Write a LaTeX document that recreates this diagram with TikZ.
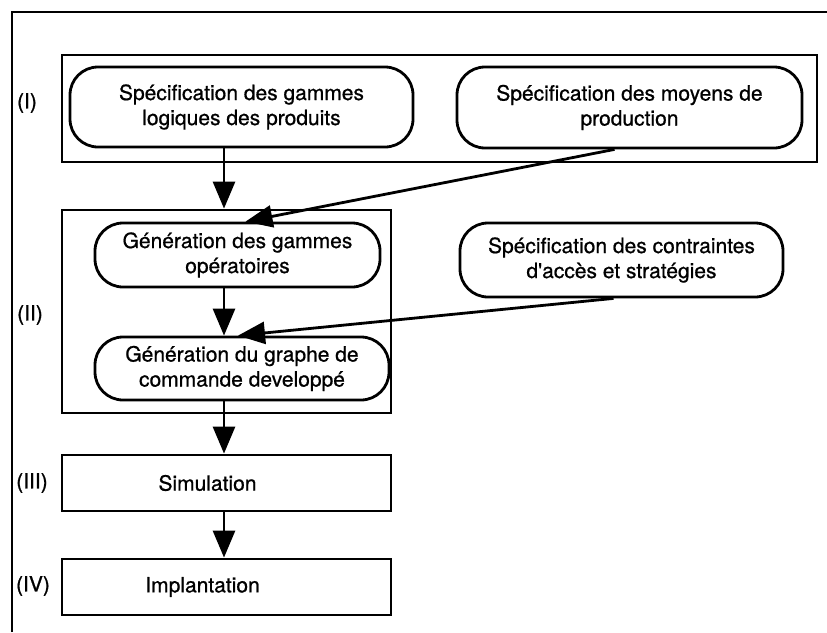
\documentclass[tikz,border=0pt]{standalone}
\usepackage{fontspec}
\setmainfont{TeX Gyre Heros}[UprightFeatures={FakeBold=0.8}]
\usetikzlibrary{arrows.meta}

\begin{document}
\begin{tikzpicture}[x=1pt, y=-1pt,
            % étapes arrondies
            proc/.style={rectangle, rounded corners=28pt, draw, line width=2.8pt, inner sep=0pt, align=center, font=\fontsize{21}{25}\selectfont},
            % cadres des phases
            phase/.style={rectangle, draw, line width=2.8pt, inner sep=0pt, font=\fontsize{21}{25}\selectfont},
            tag/.style={font=\fontsize{21}{25}\selectfont, inner sep=0pt},
            flow/.style={-{Triangle[length=27pt, width=22pt]}, line width=2.8pt}
        ]
            \useasboundingbox (0,0) rectangle (827,632);

            % --- cadre extérieur ---
            \draw[line width=2.4pt] (12,632) -- (12,12) -- (827,12);

            % --- phases ---
            \node[phase, minimum width=755pt, minimum height=107pt] (ph1) at (439.5,108.5) {};
            \node[phase, minimum width=329pt, minimum height=203pt] (ph2) at (226.5,311.5) {};
            \node[phase, minimum width=329pt, minimum height=56pt] (sim) at (226.5,483) {\hspace*{-38pt}Simulation};
            \node[phase, minimum width=329pt, minimum height=56pt] (impl) at (226.5,587) {\hspace*{-48pt}Implantation};

            \node[tag] (t1) at (27,103) {(I)};
            \node[tag] (t2) at (30,315) {(II)};
            \node[tag] (t3) at (32,483) {(III)};
            \node[tag] (t4) at (33,586) {(IV)};

            % --- étapes ---
            \node[proc, minimum width=343pt, minimum height=80pt] (gl) at (241.5,107) {Spécification des gammes\\logiques des produits};
            \node[proc, minimum width=345pt, minimum height=81pt] (mp) at (629.5,107.5) {Spécification des moyens de\\production};
            \node[proc, minimum width=285pt, minimum height=64pt] (go) at (237.5,255) {Génération des gammes\\opératoires};
            \node[proc, minimum width=323pt, minimum height=74pt] (ca) at (621.5,260) {Spécification des contraintes\\d\textquotesingle accès et stratégies};
            \node[proc, minimum width=294pt, minimum height=63pt] (gc) at (242,368.5) {Génération du graphe de\\commande developpé};

            % --- flèches ---
            \coordinate (spine) at (224,0);
            \draw[flow] (gl.south -| spine) -- (ph2.north -| spine);
            \draw[flow] ([xshift=-15pt]mp.south) -- ([xshift=8pt]go.north);
            \draw[flow] (go.south -| spine) -- (gc.north -| spine);
            \draw[flow] ([xshift=-8pt]ca.south) -- ([xshift=-4pt]gc.north);
            \draw[flow] (gc.south -| spine) -- (sim.north -| spine);
            \draw[flow] (sim.south -| spine) -- (impl.north -| spine);
        \end{tikzpicture}
\end{document}
